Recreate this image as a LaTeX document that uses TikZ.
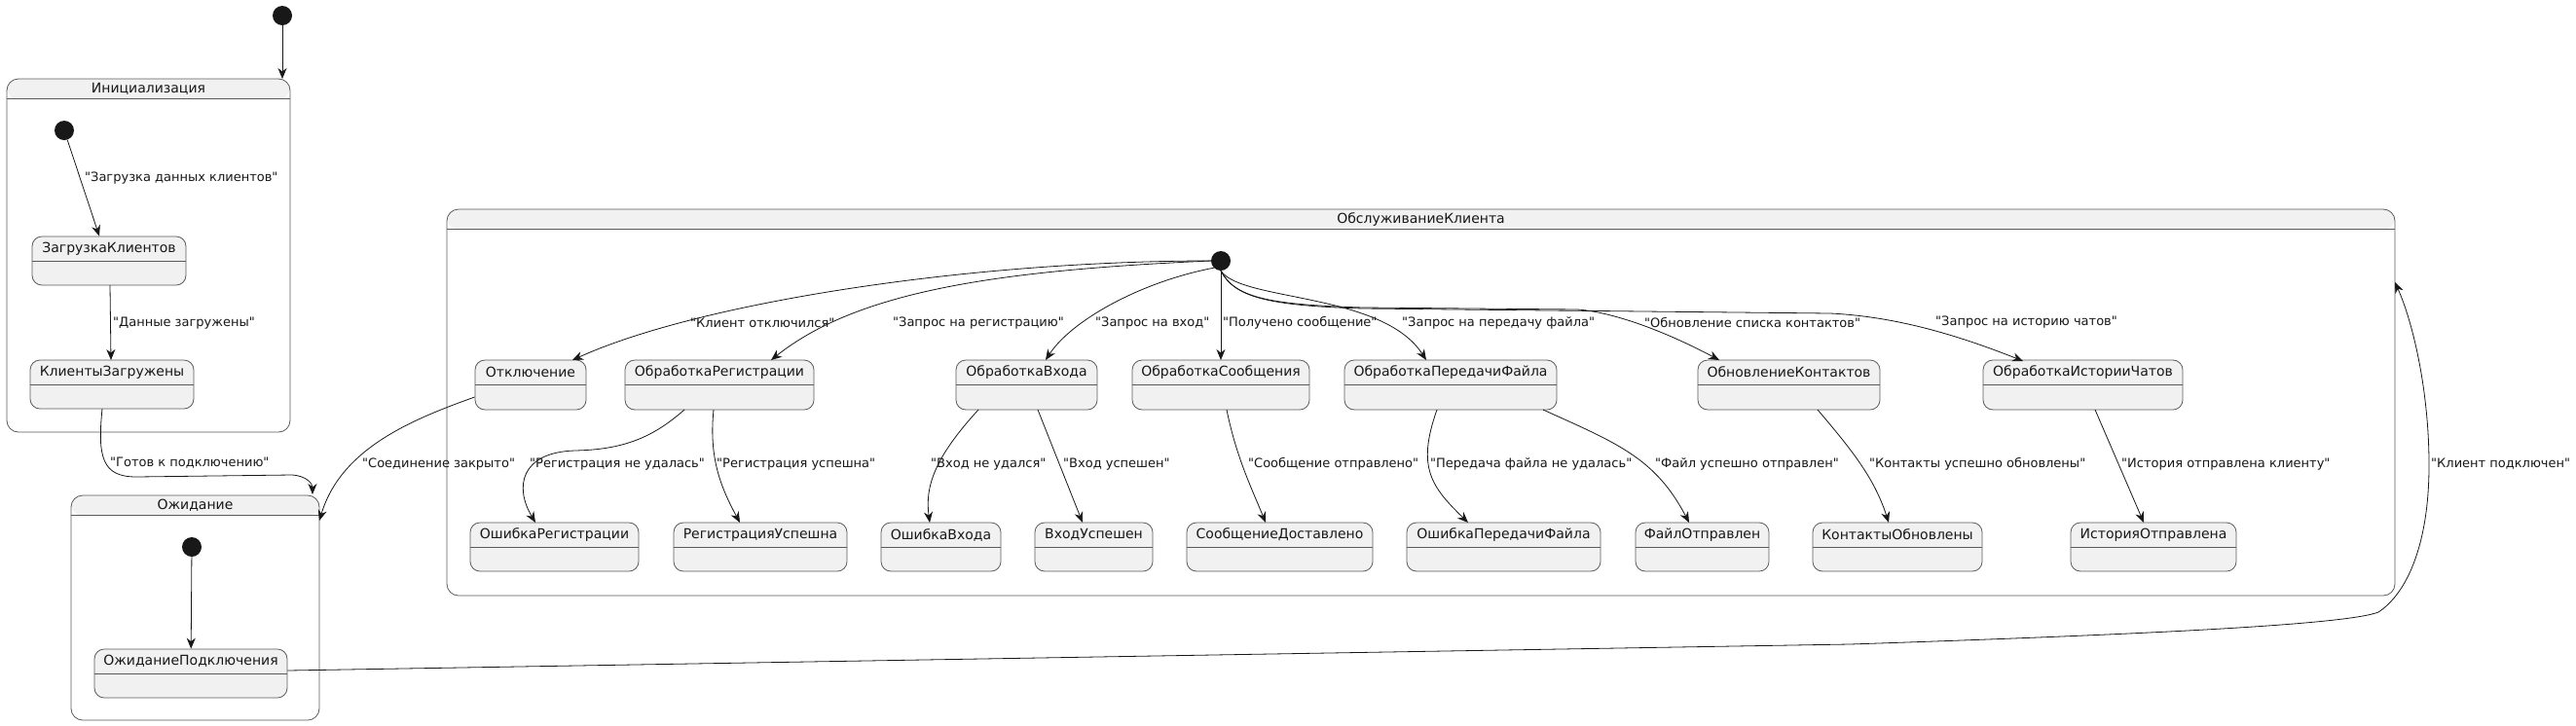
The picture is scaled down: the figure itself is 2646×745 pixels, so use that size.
\documentclass[tikz,border=0pt]{standalone}
\usepackage{fontspec}
\setmainfont{DejaVu Sans}
\newfontfamily\dvs{DejaVu Sans}
\usetikzlibrary{arrows.meta,fit}
\definecolor{stfill}{HTML}{F1F1F1}
\definecolor{stline}{HTML}{5A5A5A}
\definecolor{ink}{HTML}{181818}
\tikzset{
  stbox/.style={draw=stline, fill=stfill, line width=0.8pt, rounded corners=10pt, inner sep=0pt},
  compbox/.style={draw=stline, fill=white, line width=0.8pt, rounded corners=12pt, inner sep=0pt,
    path picture={\fill[stfill] (path picture bounding box.north west) rectangle ([yshift=-21pt]path picture bounding box.north east);}},
  stname/.style={font=\dvs\fontsize{14}{16}\selectfont, text=ink, inner sep=0pt},
  lbl/.style={font=\dvs\fontsize{13}{15}\selectfont, text=ink, anchor=west, inner sep=0pt},
  initst/.style={circle, fill=ink, minimum size=20pt, inner sep=0pt},
  tr/.style={draw=ink, line width=0.8pt, -{Stealth[length=11pt,width=9pt,inset=3.5pt]}},
}
\newcommand{\St}[6]{%
  \node[stbox, fit={(#2,#3) (#4,#5)}] (#1) {};
  \draw[stline, line width=0.8pt] ([yshift=-26pt]#1.north west) -- ([yshift=-26pt]#1.north east);
  \node[stname] at ([yshift=-13pt]#1.north) {#6};
}
\newcommand{\Comp}[6]{%
  \node[compbox, fit={(#2,#3) (#4,#5)}] (#1) {};
  \draw[stline, line width=0.8pt] ([yshift=-21pt]#1.north west) -- ([yshift=-21pt]#1.north east);
  \node[stname] at ([yshift=-11pt]#1.north) {#6};
}
\begin{document}
\begin{tikzpicture}[x=1pt,y=-1pt]
\useasboundingbox (0,0) rectangle (2646,745);
% composites
\Comp{init}{7}{81}{298}{444}{Инициализация}
\Comp{wait}{73}{509}{328}{740}{Ожидание}
\Comp{serve}{459}{215}{2460}{612}{ОбслуживаниеКлиента}
% initial states
\node[initst] (i0) at (290,16) {};
\node[initst] (i1) at (66,134) {};
\node[initst] (i2) at (197,562) {};
\node[initst] (i3) at (1254,268) {};
% simple states
\St{load}{33}{243}{191}{293}{ЗагрузкаКлиентов}
\St{loaded}{31}{370}{199}{420}{КлиентыЗагружены}
\St{waitc}{97}{667}{295}{717}{ОжиданиеПодключения}
\St{disc}{488}{370}{602}{421}{Отключение}
\St{reg}{642}{370}{836}{421}{ОбработкаРегистрации}
\St{login}{982}{370}{1127}{421}{ОбработкаВхода}
\St{msg}{1163}{370}{1345}{421}{ОбработкаСообщения}
\St{file}{1381}{370}{1599}{421}{ОбработкаПередачиФайла}
\St{cont}{1744}{370}{1931}{421}{ОбновлениеКонтактов}
\St{hist}{2037}{370}{2242}{421}{ОбработкаИсторииЧатов}
\St{regerr}{483}{537}{656}{587}{ОшибкаРегистрации}
\St{regok}{692}{537}{870}{587}{РегистрацияУспешна}
\St{loginerr}{905}{537}{1028}{587}{ОшибкаВхода}
\St{loginok}{1063}{537}{1184}{587}{ВходУспешен}
\St{msgok}{1219}{537}{1410}{587}{СообщениеДоставлено}
\St{fileerr}{1445}{537}{1644}{587}{ОшибкаПередачиФайла}
\St{fileok}{1680}{537}{1817}{587}{ФайлОтправлен}
\St{contok}{1862}{537}{2036}{587}{КонтактыОбновлены}
\St{histok}{2127}{537}{2297}{587}{ИсторияОтправлена}
% connectors: left part
\draw[tr] (i0) -- (290,81);
\draw[tr] (i1) -- (load.north -| 102,0);
\draw[tr] (113,293) -- (114,370);
\draw[tr] (105,420) .. controls (100,470) and (105,490) .. (140,490) -- (300,488) .. controls (315,489) and (321,497) .. (321,508);
\draw[tr] (i2) -- (waitc);
\draw[tr] (disc.west |- 0,408) .. controls (420,432) and (350,462) .. (328,535);
\draw[tr] (waitc.east |- 0,689) -- (1900,662) .. controls (2200,652) and (2410,642) .. (2443,629) .. controls (2472,610) and (2495,560) .. (2495,478) .. controls (2495,400) and (2478,330) .. (2460,290);
% connectors from the inner initial state
\draw[tr] (i3.west) .. controls (1000,268) and (720,310) .. (588,370);
\draw[tr] (i3.west) .. controls (1020,278) and (880,300) .. (792,370);
\draw[tr] (i3.south west) .. controls (1170,290) and (1100,330) .. (1074,370);
\draw[tr] (i3.south) -- (1254,370);
\draw[tr] (i3.south) .. controls (1275,310) and (1420,300) .. (1465,370);
\draw[tr] (i3.south) .. controls (1268,305) and (1300,313) .. (1400,316) -- (1620,318) .. controls (1650,320) and (1700,335) .. (1766,370);
\draw[tr] (i3.south) .. controls (1268,305) and (1300,314) .. (1400,317) -- (1880,322) .. controls (1940,325) and (2000,340) .. (2078,371);
% second row connectors
\draw[tr] (703,421) .. controls (670,450) and (640,462) .. (590,463) .. controls (535,465) and (528,500) .. (550,537);
\draw[tr] (733,421) .. controls (728,470) and (740,500) .. (760,537);
\draw[tr] (1005,421) .. controls (960,470) and (950,500) .. (955,537);
\draw[tr] (1066,421) -- (1112,537);
\draw[tr] (1260,421) .. controls (1270,470) and (1285,500) .. (1300,537);
\draw[tr] (1476,421) .. controls (1455,480) and (1470,500) .. (1508,537);
\draw[tr] (1585,421) .. controls (1660,455) and (1700,470) .. (1735,537);
\draw[tr] (1867,421) .. controls (1900,460) and (1925,490) .. (1940,537);
\draw[tr] (2152,421) -- (2202,537);
% labels
\node[lbl] at (87,183) {"Загрузка данных клиентов"};
\node[lbl] at (116,332) {"Данные загружены"};
\node[lbl] at (113,476) {"Готов к подключению"};
\node[lbl] at (372,477) {"Соединение закрыто"};
\node[lbl] at (709,332) {"Клиент отключился"};
\node[lbl] at (917,332) {"Запрос на регистрацию"};
\node[lbl] at (1125,332) {"Запрос на вход"};
\node[lbl] at (1256,332) {"Получено сообщение"};
\node[lbl] at (1440,332) {"Запрос на передачу файла"};
\node[lbl] at (1689,332) {"Обновление списка контактов"};
\node[lbl] at (1988,331) {"Запрос на историю чатов"};
\node[lbl] at (544,477) {"Регистрация не удалась"};
\node[lbl] at (736,477) {"Регистрация успешна"};
\node[lbl] at (956,477) {"Вход не удался"};
\node[lbl] at (1092,477) {"Вход успешен"};
\node[lbl] at (1282,477) {"Сообщение отправлено"};
\node[lbl] at (1469,477) {"Передача файла не удалась"};
\node[lbl] at (1700,477) {"Файл успешно отправлен"};
\node[lbl] at (1920,477) {"Контакты успешно обновлены"};
\node[lbl] at (2179,477) {"История отправлена клиенту"};
\node[lbl] at (2497,477) {"Клиент подключен"};
\end{tikzpicture}
\end{document}
